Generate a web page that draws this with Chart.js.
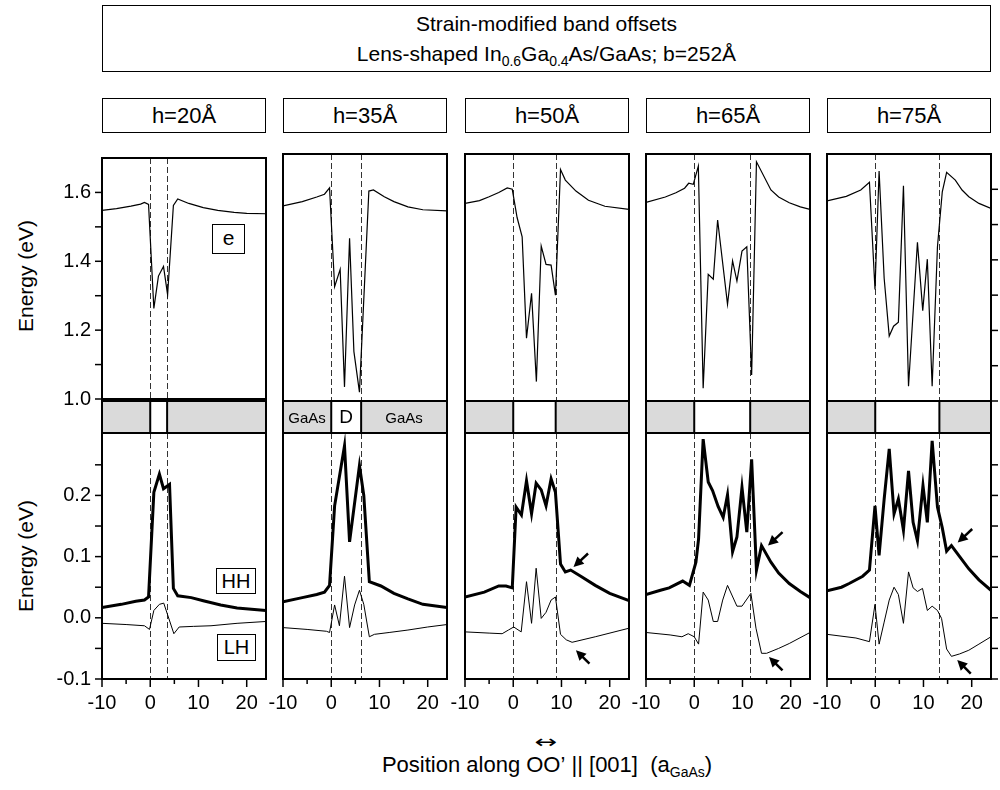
<!DOCTYPE html>
<html>
<head>
<meta charset="utf-8">
<script src="https://cdn.jsdelivr.net/npm/chart.js@4"></script>
<style>
  body { margin: 0; background: #fff; width: 1000px; height: 790px; position: relative; overflow: hidden;
         font-family: "Liberation Sans", Arial, sans-serif; color: #000; }
  canvas { position: absolute; }
  .box { position: absolute; border: 1.5px solid #000; box-sizing: border-box; text-align: center; background: #fff; }
  .lbl { position: absolute; white-space: nowrap; }
  .sub { font-size: 14px; vertical-align: -5px; }
</style>
</head>
<body>

<div class="box" style="left:102px;top:5px;width:889px;height:67px;font-size:21px;line-height:30px;padding-top:3px;">
  Strain-modified band offsets<br>
  Lens-shaped In<span class="sub">0.6</span>Ga<span class="sub">0.4</span>As/GaAs; b=252Å
</div>

<div class="lbl" style="left:26px;top:276px;font-size:21px;transform:translate(-50%,-50%) rotate(-90deg);">Energy (eV)</div>
<div class="lbl" style="left:26px;top:556px;font-size:21px;transform:translate(-50%,-50%) rotate(-90deg);">Energy (eV)</div>

<div class="box" style="left:212px;top:224px;width:33px;height:30px;font-size:21px;line-height:26px;">e</div>
<div class="box" style="left:216px;top:568px;width:40px;height:26px;font-size:20px;line-height:24px;">HH</div>
<div class="box" style="left:217px;top:634px;width:39px;height:27px;font-size:20px;line-height:25px;">LH</div>

<div class="lbl" style="left:547px;top:752px;font-size:22px;transform:translateX(-50%);">
  Position along <span style="position:relative;">OO’<span style="position:absolute;left:50%;top:-21px;transform:translateX(-50%) scaleX(1.5);font-family:'DejaVu Sans';font-size:18px;">↔</span></span> || [001]&nbsp; (a<span class="sub">GaAs</span>)
</div>

<script>
// panel titles and well edge (in lattice constants)
const columns = ["h=20Å", "h=35Å", "h=50Å", "h=65Å", "h=75Å"];
const wellEdge = [3.5, 6.2, 8.8, 11.6, 13.3];

// tick labels
const xTicks = [-10, -5, 0, 5, 10, 15, 20];
const eTicks = [1.0, 1.1, 1.2, 1.3, 1.4, 1.5, 1.6];
const vbTicks = [-0.1, -0.05, 0, 0.05, 0.1, 0.15, 0.2, 0.25];

// conduction band (e), [position, energy]
const e20 = [[-10,1.548],[-7,1.553],[-4,1.560],[-2,1.566],[-1.2,1.571],[-0.35,1.565],[0.75,1.263],[1.7,1.357],[2.75,1.385],[3.6,1.303],[4.8,1.562],[5.7,1.581],[8,1.568],[11,1.556],[14,1.548],[17.4,1.542],[20,1.539],[24,1.538]];
const e35 = [[-10,1.553],[-6,1.565],[-3,1.578],[-1.4,1.586],[-0.35,1.604],[0.7,1.324],[1.85,1.373],[2.75,1.040],[3.8,1.461],[4.7,1.140],[5.85,1.025],[7.8,1.595],[8.75,1.598],[11,1.579],[13,1.565],[15.9,1.550],[19,1.542],[24,1.539]];
const e50 = [[-10,1.560],[-7,1.568],[-5,1.579],[-3,1.591],[-1.25,1.604],[-0.2,1.600],[0.8,1.520],[1.85,1.465],[2.75,1.178],[3.8,1.305],[4.8,1.055],[5.8,1.439],[6.8,1.387],[7.85,1.385],[8.75,1.300],[9.8,1.656],[10.8,1.626],[13,1.595],[15.6,1.569],[19,1.552],[24,1.543]];
const e65 = [[-10,1.563],[-6,1.578],[-3.8,1.590],[-2,1.603],[-1.15,1.617],[-0.2,1.614],[0.85,1.666],[1.85,1.036],[2.9,1.359],[3.95,1.345],[4.85,1.513],[6.9,1.274],[7.95,1.397],[8.85,1.340],[9.9,1.425],[10.9,1.437],[11.9,1.074],[12.9,1.678],[15.9,1.598],[17.5,1.578],[19.7,1.562],[22,1.550],[24,1.543]];
const e75 = [[-10,1.567],[-6,1.580],[-3,1.598],[-1.2,1.620],[-0.05,1.316],[0.8,1.652],[1.85,1.348],[2.9,1.184],[3.8,1.212],[4.8,1.223],[5.85,1.610],[6.9,1.042],[8.75,1.450],[9.85,1.256],[10.8,1.402],[11.8,1.042],[12.9,1.437],[13.9,1.593],[14.8,1.648],[16.6,1.626],[18,1.598],[19.4,1.579],[21.5,1.560],[24,1.546]];

// heavy holes (HH)
const hh20 = [[-10,0.017],[-6,0.022],[-3,0.027],[-1.2,0.029],[-0.35,0.034],[0.75,0.205],[1.9,0.235],[2.75,0.211],[4.0,0.218],[4.8,0.048],[5.7,0.036],[8.5,0.033],[11,0.028],[14.6,0.021],[18,0.016],[24,0.012]];
const hh35 = [[-10,0.026],[-6,0.033],[-3,0.038],[-1.4,0.042],[-0.35,0.053],[0.7,0.183],[2.75,0.281],[3.8,0.124],[5.85,0.249],[6.75,0.200],[7.9,0.059],[10.3,0.052],[13,0.040],[15.9,0.031],[19,0.022],[24,0.017]];
const hh50 = [[-10,0.034],[-6,0.042],[-3,0.052],[-1.5,0.052],[-0.2,0.049],[0.6,0.181],[1.7,0.168],[2.75,0.224],[3.8,0.170],[4.75,0.220],[5.8,0.209],[6.8,0.183],[7.85,0.227],[8.75,0.205],[9.8,0.088],[10.8,0.075],[11.9,0.078],[14,0.068],[17,0.053],[20,0.040],[24,0.028]];
const hh65 = [[-10,0.038],[-7,0.045],[-5.2,0.049],[-2.4,0.060],[-1.0,0.053],[0.35,0.091],[0.9,0.129],[1.85,0.292],[2.9,0.222],[3.8,0.208],[4.95,0.182],[6.0,0.164],[6.9,0.201],[7.95,0.108],[8.85,0.132],[9.9,0.213],[10.9,0.140],[11.9,0.259],[12.9,0.078],[13.95,0.118],[15.9,0.091],[17.5,0.073],[19.7,0.056],[22,0.043],[24,0.033]];
const hh75 = [[-10,0.044],[-7,0.050],[-5.4,0.056],[-2.6,0.068],[-1.2,0.078],[-0.05,0.183],[0.8,0.102],[1.85,0.194],[2.9,0.276],[3.9,0.170],[4.8,0.194],[5.85,0.143],[6.9,0.240],[7.85,0.156],[8.75,0.126],[9.9,0.216],[10.8,0.156],[11.8,0.289],[12.9,0.181],[13.9,0.147],[14.8,0.109],[15.8,0.118],[17.5,0.100],[19.4,0.080],[21.5,0.062],[24,0.045]];

// light holes (LH)
const lh20 = [[-10,-0.009],[-5,-0.011],[-1.2,-0.013],[-0.15,-0.019],[0.75,0.012],[1.9,0.022],[2.8,0.024],[4.9,-0.026],[6.0,-0.015],[9,-0.014],[12.6,-0.013],[18,-0.009],[24,-0.006]];
const lh35 = [[-10,-0.016],[-5,-0.019],[-1,-0.022],[-0.35,-0.024],[0.7,0.021],[1.7,-0.013],[2.75,0.068],[3.8,-0.016],[4.85,0.021],[5.85,0.045],[6.75,0.022],[7.9,-0.031],[8.95,-0.027],[12,-0.024],[15.9,-0.020],[20,-0.015],[24,-0.011]];
const lh50 = [[-10,-0.023],[-5,-0.025],[-2.3,-0.026],[-1,-0.020],[0.1,-0.015],[1.65,-0.023],[2.75,0.059],[3.8,-0.009],[4.75,0.081],[5.8,-0.001],[6.8,0.009],[7.85,0.029],[8.75,0.034],[9.8,-0.027],[11,-0.036],[12.2,-0.040],[17,-0.031],[24,-0.017]];
const lh65 = [[-10,-0.024],[-5,-0.028],[-2.55,-0.031],[-1.25,-0.026],[0,-0.031],[0.9,-0.043],[1.85,0.042],[2.9,0.029],[3.95,-0.006],[4.85,-0.006],[5.9,0.029],[6.9,0.053],[8.85,0.019],[9.9,0.019],[11.75,0.040],[12.8,-0.017],[13.95,-0.058],[15,-0.058],[17.5,-0.050],[19.7,-0.042],[24,-0.024]];
const lh75 = [[-10,-0.027],[-4,-0.033],[-1.2,-0.039],[-0.05,0.022],[0.8,-0.043],[1.85,-0.007],[2.9,0.029],[3.9,0.050],[4.8,0.038],[5.85,-0.009],[6.9,0.075],[7.85,0.049],[8.75,0.043],[9.8,0.048],[10.8,0.012],[11.8,0.019],[12.9,0.012],[13.75,-0.001],[14.8,-0.051],[15.8,-0.063],[17.5,-0.059],[19.4,-0.053],[21.5,-0.043],[24,-0.031]];

const eSeries = [e20, e35, e50, e65, e75];
const hhSeries = [hh20, hh35, hh50, hh65, hh75];
const lhSeries = [lh20, lh35, lh50, lh65, lh75];

// arrow tips (data units) pointing at the HH / LH barrier features
const hhArrow = [null, null, [12.5, 0.083], [15.3, 0.118], [17.1, 0.123]];
const lhArrow = [null, null, [13.0, -0.053], [15.5, -0.064], [17.0, -0.069]];

// layout
const panelLeft = [102, 283, 465, 646, 827];
const panelW = 164;
const upperTop = 154, upperH = 247;
const stripH = 32;
const lowerTop = 433, lowerH = 246;

Chart.defaults.font.family = '"Liberation Sans", Arial, sans-serif';
Chart.defaults.font.size = 20;
Chart.defaults.color = "#000";

const toXY = (arr) => arr.map((p) => ({ x: p[0], y: p[1] }));

function line(ctx, x1, y1, x2, y2) {
  ctx.beginPath();
  ctx.moveTo(x1, y1);
  ctx.lineTo(x2, y2);
  ctx.stroke();
}

function drawArrow(ctx, tx, ty, dx, dy) {
  const len = Math.hypot(dx, dy), ux = dx / len, uy = dy / len;
  const head = 10, hw = 5;
  ctx.lineWidth = 2.5;
  line(ctx, tx + ux * head * 0.8, ty + uy * head * 0.8, tx + dx, ty + dy);
  ctx.beginPath();
  ctx.moveTo(tx, ty);
  ctx.lineTo(tx + ux * head - uy * hw, ty + uy * head + ux * hw);
  ctx.lineTo(tx + ux * head + uy * hw, ty + uy * head - ux * hw);
  ctx.closePath();
  ctx.fill();
}

// frame, ticks, dashed well edges, strip and arrows
const decor = {
  id: "decor",
  beforeDatasetsDraw(chart, args, o) {
    const { ctx, chartArea: ca } = chart;
    const xs = chart.scales.x;
    ctx.save();
    ctx.setLineDash([6, 3]);
    ctx.strokeStyle = "#333";
    ctx.lineWidth = 1;
    [0, wellEdge[o.col]].forEach((v) => {
      const p = Math.round(xs.getPixelForValue(v)) + 0.5;
      line(ctx, p, ca.top, p, ca.bottom);
    });
    ctx.restore();
  },
  afterDatasetsDraw(chart, args, o) {
    if (o.part !== "lower") return;
    const ctx = chart.ctx;
    const xs = chart.scales.x, ys = chart.scales.y;
    ctx.save();
    ctx.strokeStyle = "#000";
    ctx.fillStyle = "#000";
    const a = hhArrow[o.col], b = lhArrow[o.col];
    if (a) drawArrow(ctx, xs.getPixelForValue(a[0]), ys.getPixelForValue(a[1]), 14.5, -13.5);
    if (b) drawArrow(ctx, xs.getPixelForValue(b[0]), ys.getPixelForValue(b[1]), 13.5, 13.5);
    ctx.restore();
  },
  afterDraw(chart, args, o) {
    const { ctx, chartArea: ca } = chart;
    const xs = chart.scales.x, ys = chart.scales.y;
    ctx.save();
    ctx.strokeStyle = "#000";

    // strip with GaAs / dot regions
    if (o.part === "lower") {
      const top = ca.top - stripH;
      const x0 = xs.getPixelForValue(0), x1 = xs.getPixelForValue(wellEdge[o.col]);
      ctx.fillStyle = "#dadada";
      ctx.fillRect(ca.left, top, x0 - ca.left, stripH);
      ctx.fillRect(x1, top, ca.right - x1, stripH);
      ctx.fillStyle = "#fff";
      ctx.fillRect(x0, top, x1 - x0, stripH);
      ctx.lineWidth = 2;
      ctx.strokeRect(ca.left, top, ca.width, stripH);
      line(ctx, x0, top, x0, ca.top);
      line(ctx, x1, top, x1, ca.top);
    }

    // tick marks
    ctx.lineWidth = 1.5;
    const yt = o.part === "upper" ? eTicks : vbTicks;
    yt.forEach((v) => {
      const p = ys.getPixelForValue(v);
      if (o.col === 0) line(ctx, ca.left - 7, p, ca.left, p);
      if (o.col === 4) line(ctx, ca.right, p, ca.right + 7, p);
    });
    if (o.part === "lower") {
      xTicks.forEach((v) => {
        const p = xs.getPixelForValue(v);
        line(ctx, p, ca.bottom, p, ca.bottom + (v % 10 === 0 ? 8 : 5));
      });
    }

    // frame
    ctx.lineWidth = 2;
    ctx.strokeRect(ca.left, ca.top, ca.width, ca.height);
    ctx.restore();
  },
};

function addCanvas(left, top, w, h) {
  const c = document.createElement("canvas");
  c.width = w;
  c.height = h;
  c.style.left = left + "px";
  c.style.top = top + "px";
  c.style.width = w + "px";
  c.style.height = h + "px";
  document.body.appendChild(c);
  return c;
}

function xScale(show) {
  return {
    type: "linear",
    min: -10,
    max: 24,
    display: show,
    afterBuildTicks: (s) => { s.ticks = xTicks.map((v) => ({ value: v })); },
    afterFit: (s) => { s.height = show ? 40 : 0; },
    grid: { display: false, drawTicks: true, tickLength: 8 },
    border: { display: false },
    ticks: {
      autoSkip: false, maxRotation: 0, minRotation: 0, padding: 4,
      callback: (v) => (v % 10 === 0 ? String(v) : ""),
    },
  };
}

function yScale(show, min, max, tickVals, fmt) {
  return {
    type: "linear",
    min: min,
    max: max,
    display: show,
    afterBuildTicks: (s) => { s.ticks = tickVals.map((v) => ({ value: v })); },
    afterFit: (s) => { s.width = show ? 56 : 0; },
    grid: { display: false, drawTicks: true, tickLength: 7 },
    border: { display: false },
    ticks: { autoSkip: false, padding: 4, callback: fmt },
  };
}

const upperFmt = (v) => (Math.round(v * 10) % 2 === 0 ? v.toFixed(1) : "");
const lowerFmt = (v) => (Math.round(v * 100) % 10 === 0 ? v.toFixed(1) : "");

columns.forEach((name, i) => {
  const L = panelLeft[i];

  // panel title
  const t = document.createElement("div");
  t.className = "box";
  t.style.cssText = `left:${L}px;top:98px;width:${panelW}px;height:35px;font-size:22px;line-height:33px;`;
  t.textContent = name;
  document.body.appendChild(t);

  // conduction band panel
  const cu = addCanvas(L - 60, upperTop - 12, 60 + panelW + 30, 12 + upperH + 14);
  new Chart(cu, {
    type: "line",
    data: {
      datasets: [{
        data: toXY(eSeries[i]), borderColor: "#000", borderWidth: 1.2,
        pointRadius: 0, tension: 0, fill: false,
      }],
    },
    options: {
      responsive: false, animation: false, devicePixelRatio: 1, events: [],
      layout: { padding: { left: i === 0 ? 4 : 60, right: 30, top: 12, bottom: 14 } },
      plugins: { legend: { display: false }, tooltip: { enabled: false }, decor: { col: i, part: "upper" } },
      scales: { x: xScale(false), y: yScale(i === 0, 1.0, 1.7, eTicks, upperFmt) },
    },
    plugins: [decor],
  });

  // valence band panel (with strip above it)
  const cl = addCanvas(L - 60, lowerTop - 44, 60 + panelW + 30, 44 + lowerH + 40 + 6);
  const lowerChart = new Chart(cl, {
    type: "line",
    data: {
      datasets: [
        { label: "HH", data: toXY(hhSeries[i]), borderColor: "#000", borderWidth: 3, pointRadius: 0, tension: 0, fill: false },
        { label: "LH", data: toXY(lhSeries[i]), borderColor: "#000", borderWidth: 1, pointRadius: 0, tension: 0, fill: false },
      ],
    },
    options: {
      responsive: false, animation: false, devicePixelRatio: 1, events: [],
      layout: { padding: { left: i === 0 ? 4 : 60, right: 30, top: 44, bottom: 6 } },
      plugins: { legend: { display: false }, tooltip: { enabled: false }, decor: { col: i, part: "lower" } },
      scales: { x: xScale(true), y: yScale(i === 0, -0.1, 0.302, vbTicks, lowerFmt) },
    },
    plugins: [decor],
  });

  // strip labels for the h=35Å panel
  if (i === 1) {
    const xs = lowerChart.scales.x, ca = lowerChart.chartArea;
    const x0 = xs.getPixelForValue(0), x1 = xs.getPixelForValue(wellEdge[i]);
    const cy = lowerTop - stripH / 2;
    [[(ca.left + x0) / 2, "GaAs", 15], [(x0 + x1) / 2, "D", 19], [(x1 + ca.right) / 2, "GaAs", 15]].forEach((s) => {
      const d = document.createElement("div");
      d.className = "lbl";
      d.style.cssText = `left:${L - 60 + s[0]}px;top:${cy}px;font-size:${s[2]}px;transform:translate(-50%,-50%);`;
      d.textContent = s[1];
      document.body.appendChild(d);
    });
  }
});
</script>
</body>
</html>
